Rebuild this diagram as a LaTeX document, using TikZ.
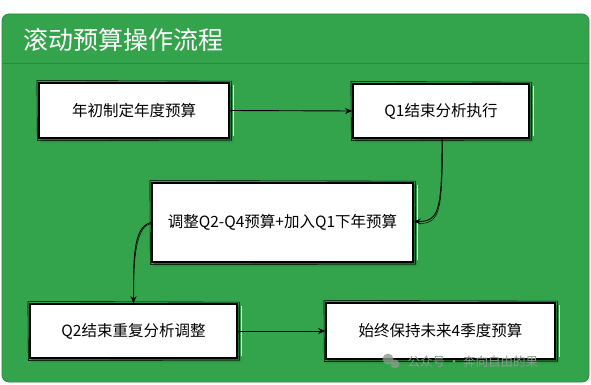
\documentclass[tikz,border=0pt]{standalone}
\usepackage{fontspec}
\newfontfamily\cjk{Noto Sans CJK SC}
\usetikzlibrary{arrows.meta,shadows.blur}
\definecolor{bggreen}{HTML}{34A44C}
\definecolor{edgegreen}{HTML}{2A8A3E}
\definecolor{wmgray}{HTML}{8A9A8C}
\tikzset{
  stepbox/.style={draw=black, line width=1.7pt, fill=white, inner sep=0pt,
    font=\cjk\fontsize{15.5}{18}\selectfont,
    blur shadow={shadow xshift=2.5pt, shadow yshift=-2.5pt, shadow blur steps=6, shadow opacity=40}},
  sketchline/.style={draw=black, line width=0.6pt},
  conn/.style={draw=black, line width=0.9pt, -{Stealth[length=7pt,width=6pt]}},
  conn2/.style={draw=black, line width=0.5pt},
}
\newcommand{\sketchbox}[1]{%
  \draw[sketchline] ([xshift=-1.2pt,yshift=1.6pt]#1.north west) -- ([xshift=1.5pt,yshift=1.0pt]#1.north east)
    -- ([xshift=1.8pt,yshift=-1.2pt]#1.south east) -- ([xshift=-0.8pt,yshift=-1.6pt]#1.south west) -- cycle;
  \draw[white, line width=1pt] ([xshift=3.2pt,yshift=-3pt]#1.north east) -- ([xshift=3.2pt,yshift=3pt]#1.south east);
}
\begin{document}
\begin{tikzpicture}[x=1pt,y=-1pt]
\useasboundingbox (0,0) rectangle (591,385);
\fill[white] (0,0) rectangle (591,385);
% background panel
\draw[fill=bggreen, draw=edgegreen, line width=0.8pt, rounded corners=7pt] (2,14) rectangle (589,382);
\draw[edgegreen, line width=1pt] (2.5,64) -- (588.5,64);
\node[anchor=west, text=white, font=\cjk\fontsize{25}{28}\selectfont] (title) at (20,40) {滚动预算操作流程};

% boxes
\node[stepbox, minimum width=190pt, minimum height=55pt] (b1) at (134,110.5) {年初制定年度预算};
\node[stepbox, minimum width=176pt, minimum height=54pt] (b2) at (441,111) {Q1结束分析执行};
\node[stepbox, minimum width=261pt, minimum height=79pt] (b3) at (282.5,222.5) {调整Q2-Q4预算+加入Q1下年预算};
\node[stepbox, minimum width=207pt, minimum height=54pt] (b4) at (133.5,331) {Q2结束重复分析调整};
\node[stepbox, minimum width=229pt, minimum height=56pt] (b5) at (440.5,331) {始终保持未来4季度预算};
\foreach \n in {b1,b2,b3,b4,b5} {\sketchbox{\n}}

% connectors
\draw[conn2] ([xshift=1.5pt,yshift=-1pt]b2.south) .. controls +(0,70) and +(20,0) .. ([xshift=6pt,yshift=-1pt]b3.east);
\draw[conn] ([xshift=1pt]b2.south) .. controls +(0,72) and +(25,0) .. ([yshift=1pt]b3.east);
\draw[conn2] ([yshift=-1pt]b3.west) .. controls +(-14,2) and +(-1,-40) .. ([xshift=0.5pt,yshift=8pt]b4.north);
\draw[conn] (b3.west) .. controls +(-18,4) and +(0,-45) .. (b4.north);
\draw[conn] (b1.east) -- (b2.west);
\draw[conn] (b4.east) -- (b5.west);

% watermark
\fill[wmgray, opacity=0.8] (388,359) circle (5.5pt);
\fill[wmgray, opacity=0.8] (395,364) circle (4.5pt);
\node[anchor=west, text=wmgray, font=\cjk\fontsize{12.5}{14}\selectfont] (wm) at (404,362) {公众号 · 奔向自由的果};
\end{tikzpicture}
\end{document}
